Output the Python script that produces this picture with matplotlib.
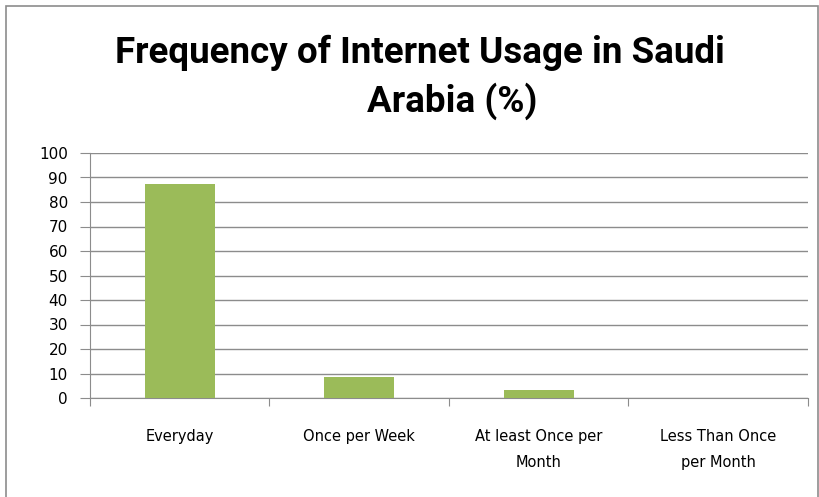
import matplotlib.pyplot as plt
from matplotlib.patches import Rectangle

categories = ["Everyday", "Once per Week", "At least Once per\nMonth", "Less Than Once\nper Month"]
values = [87.5, 8.7, 3.2, 0]
yticks = list(range(0, 101, 10))

fig = plt.figure(figsize=(8.2, 4.97), dpi=100)
fig.patches.append(Rectangle((0.007, -0.01), 0.99, 0.997, transform=fig.transFigure,
                             fill=False, edgecolor="#8c8c8c", linewidth=1.2))
ax = fig.add_axes([90/820, 1-398/497, (808-90)/820, (398-153)/497])

x = list(range(len(categories)))
ax.bar(x, values, width=0.39, color="#9bbb59", zorder=3)
ax.set_xlim(-0.5, len(categories)-0.5)
ax.set_ylim(0, 100)
ax.set_yticks(yticks)
ax.set_yticklabels([str(t) for t in yticks], fontsize=11)
ax.yaxis.grid(True, color="#8c8c8c", linewidth=1)
ax.set_axisbelow(True)
ax.tick_params(axis="y", length=7, color="#8c8c8c", pad=9)
ax.set_xticks([i - 0.5 for i in range(len(categories)+1)], minor=False)
ax.set_xticklabels([])
ax.tick_params(axis="x", length=6, color="#8c8c8c", direction="out")
ax.set_xticks(x, minor=True)
ax.set_xticklabels(categories, minor=True, fontsize=10.5, linespacing=1.95)
ax.tick_params(axis="x", which="minor", length=0, pad=22)
for s in ["top", "right"]:
    ax.spines[s].set_visible(False)
for s in ["left", "bottom"]:
    ax.spines[s].set_color("#8c8c8c")

fig.text(0.512, 0.893, "Frequency of Internet Usage in Saudi", ha="center", va="center",
         fontsize=26.5, fontweight="bold", family="Roboto")
fig.text(0.551, 0.797, "Arabia (%)", ha="center", va="center",
         fontsize=26.5, fontweight="bold", family="Roboto")

fig.savefig("out.png", dpi=100)
